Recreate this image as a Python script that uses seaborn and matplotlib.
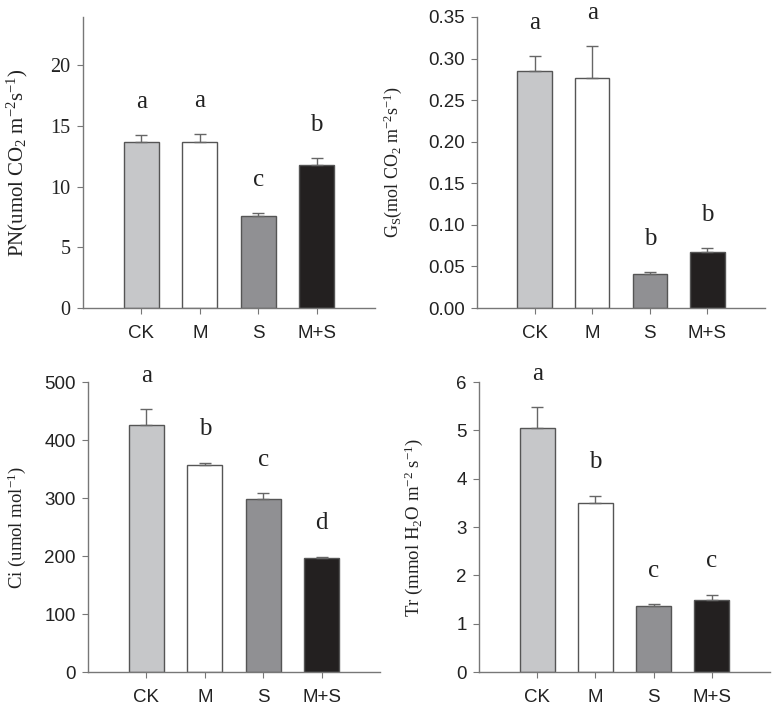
import numpy as np
import pandas as pd
import matplotlib
matplotlib.use("Agg")
import matplotlib.pyplot as plt
import seaborn as sns

categories = ["CK", "M", "S", "M+S"]
colors = ["#c6c7c9", "#ffffff", "#8f9094", "#231f20"]

pn_values = [13.7, 13.7, 7.6, 11.8]
pn_err = [0.58, 0.65, 0.2, 0.55]
pn_letters = ["a", "a", "c", "b"]

gs_values = [0.285, 0.277, 0.041, 0.067]
gs_err = [0.018, 0.038, 0.002, 0.005]
gs_letters = ["a", "a", "b", "b"]

ci_values = [426, 357, 298, 196]
ci_err = [27, 4, 11, 3]
ci_letters = ["a", "b", "c", "d"]

tr_values = [5.05, 3.5, 1.37, 1.48]
tr_err = [0.43, 0.15, 0.03, 0.12]
tr_letters = ["a", "b", "c", "c"]

sns.set_theme(style="ticks")
plt.rcParams["font.family"] = ["Liberation Sans", "DejaVu Sans"]
plt.rcParams["mathtext.fontset"] = "custom"
plt.rcParams["mathtext.rm"] = "Liberation Serif"
plt.rcParams["mathtext.it"] = "Liberation Serif:italic"
plt.rcParams["mathtext.bf"] = "Liberation Serif:bold"
SERIF = "Liberation Serif"

fig = plt.figure(figsize=(7.74, 7.05), dpi=100)

panels = [
    dict(rect=[0.1072, 0.5631, 0.3773, 0.4128], vals=pn_values, err=pn_err, let=pn_letters,
         ylim=(0, 24), ticks=[0, 5, 10, 15, 20], fmt="{:.0f}", serif_ticks=True,
         label=r"PN(umol CO$_\mathrm{2}$ m$^\mathrm{-2}$s$^\mathrm{-1}$)", labx=-0.18, labsize=15),
    dict(rect=[0.6163, 0.5631, 0.3721, 0.4128], vals=gs_values, err=gs_err, let=gs_letters,
         ylim=(0, 0.35), ticks=[0, 0.05, 0.10, 0.15, 0.20, 0.25, 0.30, 0.35], fmt="{:.2f}", serif_ticks=False,
         label=r"G$_\mathrm{S}$(mol CO$_\mathrm{2}$ m$^\mathrm{-2}$s$^\mathrm{-1}$)", labx=-0.255, labsize=13),
    dict(rect=[0.1137, 0.0468, 0.3773, 0.4113], vals=ci_values, err=ci_err, let=ci_letters,
         ylim=(0, 500), ticks=[0, 100, 200, 300, 400, 500], fmt="{:.0f}", serif_ticks=False,
         label=r"Ci (umol mol$^\mathrm{-1}$)", labx=-0.205, labsize=13.5),
    dict(rect=[0.6189, 0.0468, 0.3760, 0.4113], vals=tr_values, err=tr_err, let=tr_letters,
         ylim=(0, 6), ticks=[0, 1, 2, 3, 4, 5, 6], fmt="{:.0f}", serif_ticks=False,
         label=r"Tr (mmol H$_\mathrm{2}$O m$^\mathrm{-2}$ s$^\mathrm{-1}$)", labx=-0.185, labsize=13.5),
]

for p in panels:
    ax = fig.add_axes(p["rect"])
    df = pd.DataFrame({"cat": categories, "val": p["vals"]})
    sns.barplot(data=df, x="cat", y="val", hue="cat", palette=colors, order=categories,
                hue_order=categories, width=0.6, edgecolor="#555555", linewidth=1.0,
                legend=False, ax=ax, errorbar=None)
    xs = np.arange(len(categories))
    ax.errorbar(xs, p["vals"], yerr=[np.zeros(len(categories)), p["err"]], fmt="none",
                ecolor="#666666", elinewidth=1.0, capsize=4, capthick=1.0)
    for x, v, e, l in zip(xs, p["vals"], p["err"], p["let"]):
        ax.annotate(l, (x, v + e), xytext=(0, 16), textcoords="offset points",
                    ha="center", va="bottom", fontsize=18, family=SERIF, color="#222222",
                    annotation_clip=False)
    ax.set_xlim(-1, 4)
    ax.set_ylim(*p["ylim"])
    ax.set_yticks(p["ticks"])
    ax.set_yticklabels([p["fmt"].format(t) for t in p["ticks"]])
    ax.set_xlabel("")
    ax.set_ylabel(p["label"], family=SERIF, fontsize=p["labsize"], color="#222222")
    ax.yaxis.set_label_coords(p["labx"], 0.5)
    for s in ["top", "right"]:
        ax.spines[s].set_visible(False)
    for s in ["left", "bottom"]:
        ax.spines[s].set_color("#777777")
        ax.spines[s].set_linewidth(1.0)
    ax.tick_params(axis="both", direction="out", length=4, width=0.8, color="#777777",
                   labelsize=13.5, labelcolor="#222222", pad=5)
    ax.tick_params(axis="x", pad=8)
    if p["serif_ticks"]:
        for t in ax.get_yticklabels():
            t.set_family(SERIF)
            t.set_fontsize(14.5)

fig.savefig("out.png", dpi=100)
